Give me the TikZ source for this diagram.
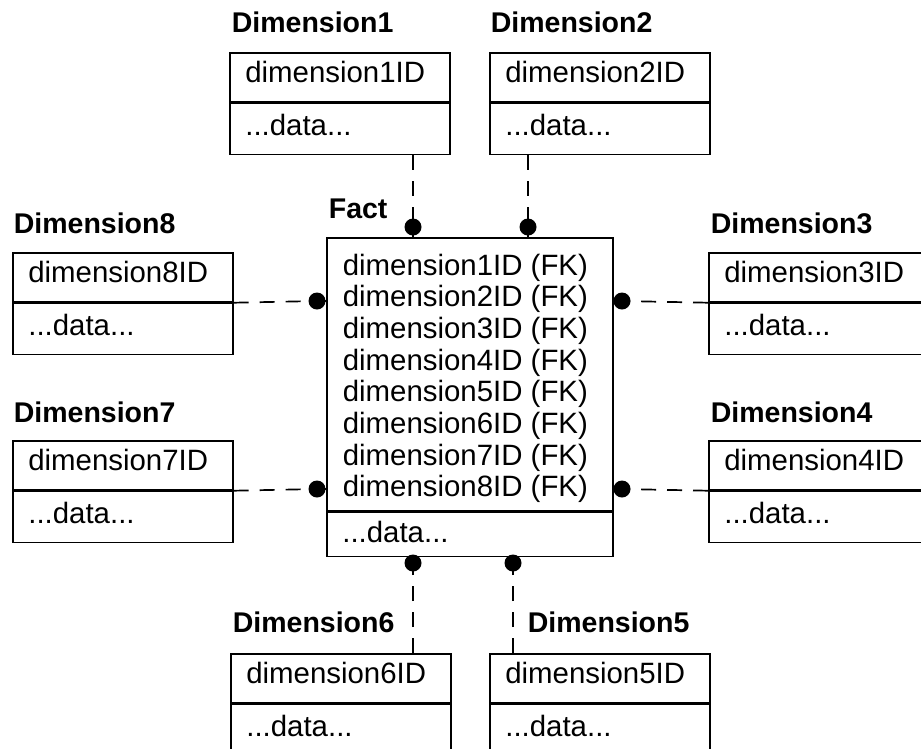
\documentclass[tikz,border=0pt]{standalone}
\usepackage{fontspec}
\setmainfont{Liberation Sans}
\newcommand\dimbody{\fontsize{29.4}{31.7}\selectfont}
\newcommand\dimtitle{\fontsize{28.5}{30}\selectfont\bfseries}
\begin{document}
\begin{tikzpicture}[x=1pt, y=-1pt, line width=1.7pt,
  idbox/.style={draw, anchor=north west, text width=189pt, inner xsep=15.5pt,
    inner ysep=0pt, text height=30pt, text depth=19pt, font=\dimbody},
  databox/.style={draw, anchor=north west, text width=189pt, inner xsep=15.5pt,
    inner ysep=0pt, text height=32pt, text depth=19pt, font=\dimbody},
  title/.style={anchor=base west, inner sep=0pt, font=\dimtitle},
  fkline/.style={anchor=base west, inner sep=0pt, font=\dimbody},
  link/.style={dash pattern=on 15pt off 11pt},
  knob/.style={circle, fill, inner sep=0pt, minimum size=17pt},
]
\clip (0,0) rectangle (921,748);
\fill[white] (0,0) rectangle (921,748);

% ---- fact table ----
\node[title] (tf) at (328,218) {Fact};
\node[draw, anchor=north west, minimum width=286pt, minimum height=273pt,
      inner sep=0pt] (fk) at (326,237) {};
\node[draw, anchor=north west, text width=255pt, inner xsep=15.5pt, inner ysep=0pt,
      text height=30pt, text depth=14pt, font=\dimbody] (fdata) at (fk.south west) {...data...};
\foreach \i in {1,...,8}
  \node[fkline] (fk\i) at (342, {275+31.7*(\i-1)}) {dimension\i ID (FK)};

% ---- dimension tables ----
\node[title] (t1) at (231,32) {Dimension1};
\node[idbox] (d1id) at (229,52) {dimension1ID};
\node[databox] (d1data) at (d1id.south west) {...data...};

\node[title] (t2) at (490,32) {Dimension2};
\node[idbox] (d2id) at (489,52) {dimension2ID};
\node[databox] (d2data) at (d2id.south west) {...data...};

\node[title] (t8) at (13,233) {Dimension8};
\node[idbox] (d8id) at (12,252) {dimension8ID};
\node[databox] (d8data) at (d8id.south west) {...data...};

\node[title] (t7) at (13,422) {Dimension7};
\node[idbox] (d7id) at (12,440) {dimension7ID};
\node[databox] (d7data) at (d7id.south west) {...data...};

\node[title] (t3) at (710,233) {Dimension3};
\node[idbox] (d3id) at (708,252) {dimension3ID};
\node[databox] (d3data) at (d3id.south west) {...data...};

\node[title] (t4) at (710,422) {Dimension4};
\node[idbox] (d4id) at (708,440) {dimension4ID};
\node[databox] (d4data) at (d4id.south west) {...data...};

\node[title] (t6) at (232,632) {Dimension6};
\node[idbox] (d6id) at (230,653) {dimension6ID};
\node[databox] (d6data) at (d6id.south west) {...data...};

\node[title] (t5) at (527,632) {Dimension5};
\node[idbox] (d5id) at (489,653) {dimension5ID};
\node[databox] (d5data) at (d5id.south west) {...data...};

% ---- connector ends at the fact table ----
\coordinate (p1) at (413,227);
\coordinate (p2) at (528,227);
\coordinate (p3) at (622,301);
\coordinate (p4) at (622,489);
\coordinate (p5) at (513,563);
\coordinate (p6) at (413,563);
\coordinate (p7) at (317,489);
\coordinate (p8) at (317,301);

% dashed links
\draw[link] (d1data.south -| p1) -- (p1);
\draw[link] (d2data.south -| p2) -- (p2);
\draw[link] (d3id.south west) -- (p3);
\draw[link] (d4id.south west) -- (p4);
\draw[link] (d5id.north -| p5) -- (p5);
\draw[link] (d6id.north -| p6) -- (p6);
\draw[link] (d7id.south east) -- (p7);
\draw[link] (d8id.south east) -- (p8);

% short stems and knobs
\draw (p1) -- (p1 |- fk.north);
\draw (p2) -- (p2 |- fk.north);
\draw (p3) -- (p3 -| fk.east);
\draw (p4) -- (p4 -| fk.east);
\draw (p5) -- (p5 |- fdata.south);
\draw (p6) -- (p6 |- fdata.south);
\draw (p7) -- (p7 -| fk.west);
\draw (p8) -- (p8 -| fk.west);
\foreach \k in {1,...,8}
  \node[knob] (k\k) at (p\k) {};
\end{tikzpicture}
\end{document}
